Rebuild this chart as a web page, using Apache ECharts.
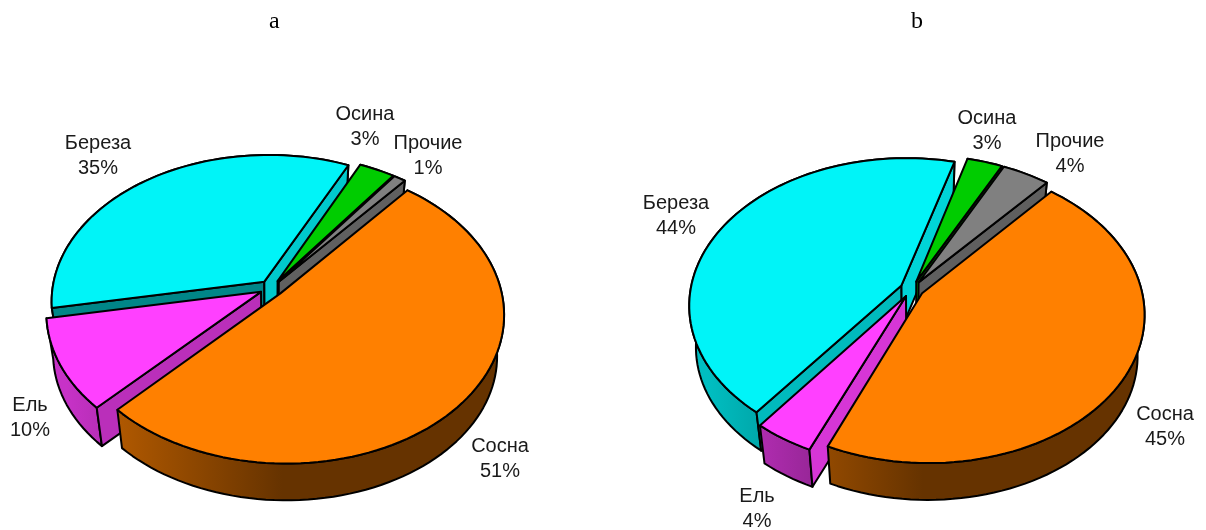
<!DOCTYPE html>
<html><head><meta charset="utf-8">
<style>html,body{margin:0;padding:0;background:#fff}#c{width:1206px;height:530px}</style>
<script src="https://cdn.jsdelivr.net/npm/echarts@6/dist/echarts.min.js"></script>
</head><body><div id="c"></div>
<script>
const categories = ['Сосна', 'Ель', 'Береза', 'Осина', 'Прочие'];
const valuesA = [51, 10, 35, 3, 1];
const valuesB = [45, 4, 44, 3, 4];
const panelTitles = ['a', 'b'];
const sliceColors = ['#FF8000', '#FF40FF', '#00F4F8', '#00CC00', '#808080'];

// back-to-front paint order of the slices
const paintOrder = [2, 3, 4, 1, 0];
// view of each tilted pie
const viewA = {cx: 271.5, cy: 288, rx: 216, ry: 145.5, p: 0.135, q: 0.018, explode: 0.055, depth: 42, shrink: 0.97, start: 40};
const viewB = {cx: 912, cy: 289, rx: 215, ry: 145.5, p: 0.135, q: 0.018, explode: 0.055, depth: 42, shrink: 0.97, start: 41};
// label centres of the two-line labels, in category order
const labelsA = [[500, 459], [30, 418], [98, 156], [365, 127], [428, 156]];
const labelsB = [[1165, 427], [757, 509], [676, 216], [987, 131], [1070, 154]];

function shade(hex, s) {
  const n = parseInt(hex.slice(1), 16);
  const c = [n >> 16, (n >> 8) & 255, n & 255].map(v => Math.round(v * s));
  return 'rgb(' + c.join(',') + ')';
}
function makeSeries(values, view, labels) {
  const total = values.reduce((a, b) => a + b, 0);
  const starts = [];
  let acc = view.start;
  values.forEach(v => { starts.push(acc); acc += v / total * 360; });

  function project(U, V) {
    const f = 1 / (1 - view.p * V - view.q * U);
    return [view.cx + view.rx * U * f, view.cy + view.ry * V * f];
  }
  function lower(pt) {
    return [view.cx + (pt[0] - view.cx) * view.shrink,
            view.cy + (pt[1] - view.cy) * view.shrink + view.depth];
  }
  function render(params, api) {
    const i = api.value(0);
    const a0 = starts[i], span = values[i] / total * 360, a1 = a0 + span;
    const rad = d => d * Math.PI / 180;
    const mid = rad(a0 + span / 2);
    const ox = view.explode * Math.sin(mid), oy = -view.explode * Math.cos(mid);
    const pointAt = (deg, r) => project(ox + r * Math.sin(rad(deg)), oy - r * Math.cos(rad(deg)));
    const apex = pointAt(a0, 0);
    const arc = [];
    const steps = Math.max(4, Math.ceil(span / 2));
    for (let k = 0; k <= steps; k++) arc.push(pointAt(a0 + span * k / steps, 1));
    const color = sliceColors[i];
    const stroke = {stroke: '#000', lineWidth: 2, lineJoin: 'round'};
    const poly = (points, fill) => ({type: 'polygon', shape: {points}, style: Object.assign({fill}, stroke)});

    const wall = outer => {
      const dx = outer[0] - apex[0], dy = outer[1] - apex[1];
      const len = Math.hypot(dx, dy);
      let nx = dy / len, ny = -dx / len;
      if (ny < 0) { nx = -nx; }
      return poly([apex, outer, lower(outer), lower(apex)], shade(color, 0.5 + 0.4 * nx));
    };
    const rimFill = {
      type: 'linear', global: true,
      x: view.cx - 0.95 * view.rx, y: 0, x2: view.cx + 0.05 * view.rx, y2: 0,
      colorStops: [{offset: 0, color: shade(color, 0.78)}, {offset: 1, color: shade(color, 0.4)}]
    };
    const children = [poly(arc.concat(arc.map(lower).reverse()), rimFill)];
    // a radial wall shows only when its outward side turns towards the viewer
    if (-Math.sin(rad(a0)) > 0) children.push(wall(arc[0]));
    if (Math.sin(rad(a1)) > 0) children.push(wall(arc[arc.length - 1]));
    children.push(poly([apex].concat(arc), color));
    const lp = labels[i];
    children.push({
      type: 'text', x: lp[0], y: lp[1], z2: 10,
      style: {
        text: categories[i] + '\n' + values[i] + '%', align: 'center', verticalAlign: 'middle',
        font: '20px "Liberation Sans", Arial, sans-serif', lineHeight: 25, fill: '#1a1a1a'
      }
    });
    return {type: 'group', children};
  }
  return {
    type: 'custom', coordinateSystem: 'none', silent: true, animation: false, clip: false,
    renderItem: render, data: paintOrder.map(i => [i])
  };
}
const chart = echarts.init(document.getElementById('c'), null, {renderer: 'canvas'});
const titleStyle = {fontFamily: '"Liberation Serif"', fontWeight: 'normal', fontSize: 24, color: '#000'};
chart.setOption({
  backgroundColor: '#fff',
  animation: false,
  title: [
    {text: panelTitles[0], left: 264, top: 5, textStyle: titleStyle},
    {text: panelTitles[1], left: 906, top: 5, textStyle: titleStyle}
  ],
  series: [makeSeries(valuesA, viewA, labelsA), makeSeries(valuesB, viewB, labelsB)]
});
</script></body></html>
